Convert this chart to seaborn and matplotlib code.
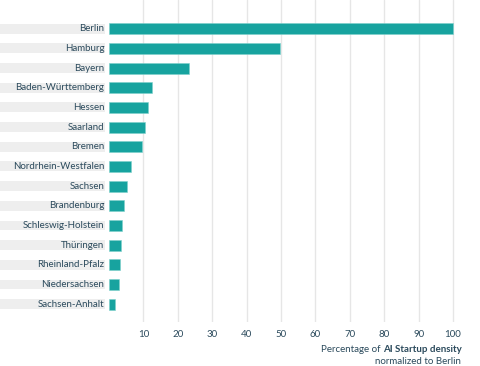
import matplotlib
matplotlib.use("Agg")
import matplotlib.pyplot as plt
import matplotlib.transforms as mtransforms
from matplotlib.patches import Rectangle
import seaborn as sns
import pandas as pd

states = ["Berlin", "Hamburg", "Bayern", "Baden-Württemberg", "Hessen", "Saarland",
          "Bremen", "Nordrhein-Westfalen", "Sachsen", "Brandenburg", "Schleswig-Holstein",
          "Thüringen", "Rheinland-Pfalz", "Niedersachsen", "Sachsen-Anhalt"]
values = [100, 49.8, 23.4, 12.6, 11.4, 10.5, 9.5, 6.5, 5.3, 4.4, 3.9, 3.5, 3.3, 3.0, 1.6]
ticks = [10, 20, 30, 40, 50, 60, 70, 80, 90, 100]

sns.set_style("white")
plt.rcParams["font.family"] = ["Lato", "DejaVu Sans"]

TEXT = "#2b4a5c"
BAR = "#17a39f"

W, H = 480, 366
fig = plt.figure(figsize=(W / 100, H / 100), dpi=100)
ax = fig.add_axes([109 / W, 1 - 322 / H, (470 - 109) / W, 322 / H])

df = pd.DataFrame({"state": states, "value": values})
sns.barplot(data=df, x="value", y="state", color=BAR, saturation=1, width=0.56,
            edgecolor="#7fd0cc", linewidth=0.4, ax=ax)

ax.set_xlim(0, (470 - 109) / 3.44)
ax.set_ylim(14.91, -1.46)
ax.set_xticks(ticks)
ax.set_xticklabels([str(t) for t in ticks])
for t in ticks:
    ax.axvline(t, color="#e6e6e6", lw=1, zorder=0)
ax.tick_params(axis="x", length=0, pad=6, labelsize=7, labelcolor=TEXT)
ax.tick_params(axis="y", length=0, labelleft=False)
ax.set_xlabel("")
ax.set_ylabel("")
for s in ax.spines.values():
    s.set_visible(False)

# label bands and labels
trans = mtransforms.blended_transform_factory(fig.transFigure, ax.transData)
for i, name in enumerate(states):
    r = Rectangle((0, i - 0.25), 105 / W, 0.5, transform=trans, facecolor="#eeeeee",
                  edgecolor="none", clip_on=False, zorder=0)
    fig.add_artist(r)
    fig.text(104.5 / W, 0, name, transform=trans, ha="right", va="center",
             fontsize=7, color=TEXT)
    fig.texts[-1].set_y(i)
    fig.texts[-1].set_transform(trans)

# axis caption with bold part
bold = fig.text(462 / W, 1 - 350 / H, "AI Startup density", ha="right", va="center",
                fontsize=7, fontweight="bold", color=TEXT)
fig.canvas.draw()
bb = bold.get_window_extent(renderer=fig.canvas.get_renderer())
fig.text(bb.x0 / W, 1 - 350 / H, "Percentage of ", ha="right", va="center",
         fontsize=7, color=TEXT)
fig.text(461 / W, 1 - 362 / H, "normalized to Berlin", ha="right", va="center",
         fontsize=7, color=TEXT)

fig.savefig("out.png", dpi=100)
